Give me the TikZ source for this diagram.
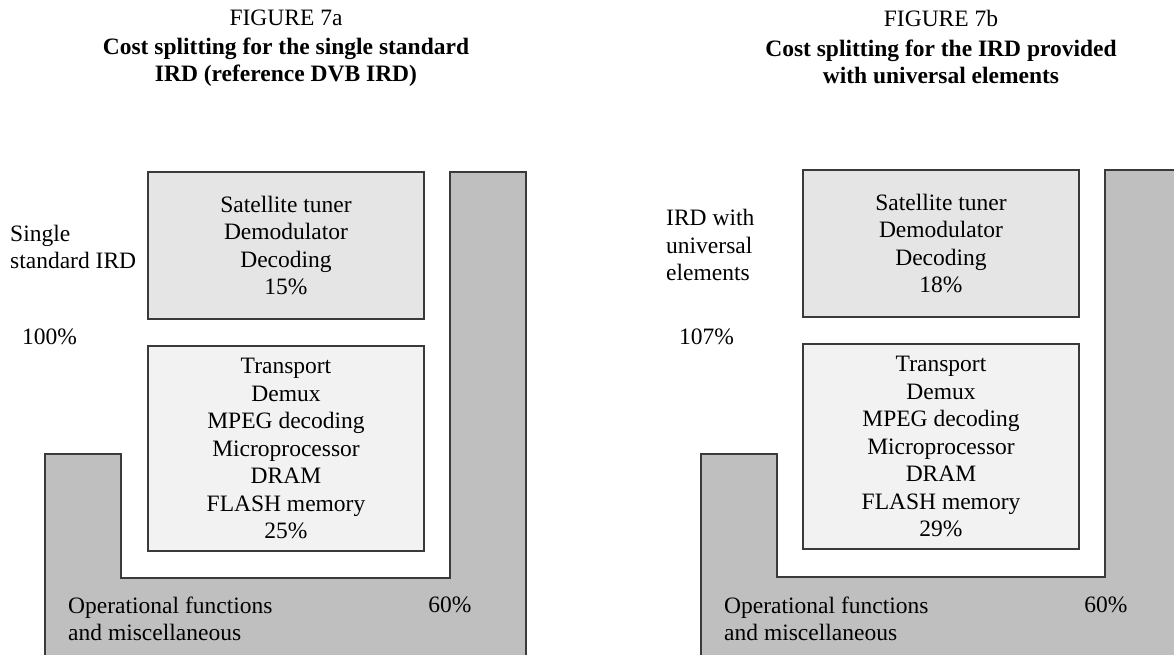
\documentclass[tikz,border=0pt]{standalone}
\usepackage{fontspec}
\setmainfont{Liberation Serif}
\definecolor{ugray}{HTML}{BFBFBF}
\definecolor{tunergray}{HTML}{E5E5E5}
\definecolor{coregray}{HTML}{F2F2F2}
\definecolor{edge}{HTML}{3A3A3A}
\tikzset{
  txt/.style={font=\fontsize{23.5}{27.5}\selectfont, inner sep=0pt, align=center},
  titletxt/.style={txt, font=\fontsize{23.5}{26.5}\selectfont\bfseries},
  upart/.style={fill=ugray, draw=edge, line width=1.2pt},
  tunerbox/.style={txt, draw=edge, fill=tunergray, line width=1.2pt, minimum width=276pt, minimum height=147pt},
  corebox/.style={txt, draw=edge, fill=coregray, line width=1.2pt, minimum width=276pt, minimum height=205pt},
}
\begin{document}
\begin{tikzpicture}[x=1pt, y=-1pt]
  \clip (0,0) rectangle (1174,655);
  % Figure 7a
  \node[txt] (figa) at (286,18) {FIGURE 7a};
  \node[titletxt] (titlea) at (286,62) {Cost splitting for the single standard\\IRD (reference DVB IRD)};
  \draw[upart] (45,660) -- (45,454) -- (121,454) -- (121,578) -- (450,578) -- (450,172) -- (526,172) -- (526,660);
  \node[tunerbox] (tunera) at (286,245.5) {Satellite tuner\\Demodulator\\Decoding\\15\%};
  \node[corebox] (corea) at (286,448.5) {Transport\\Demux\\MPEG decoding\\Microprocessor\\DRAM\\FLASH memory\\25\%};
  \node[txt, align=left, anchor=west] (namea) at (10,247) {Single\\standard IRD};
  \node[txt, anchor=west] (totala) at (22,337) {100\%};
  \node[txt, align=left, anchor=west] (opa) at (68,619) {Operational functions\\and miscellaneous};
  \node[txt] (sharea) at (450,605) {60\%};
  % Figure 7b
  \node[txt] (figb) at (941,18) {FIGURE 7b};
  \node[titletxt] (titleb) at (941,62) {Cost splitting for the IRD provided\\with universal elements};
  \draw[upart] (701,660) -- (701,454) -- (777,454) -- (777,577) -- (1105,577) -- (1105,170) -- (1181,170) -- (1181,660);
  \node[tunerbox] (tunerb) at (941,243.5) {Satellite tuner\\Demodulator\\Decoding\\18\%};
  \node[corebox] (coreb) at (941,446.5) {Transport\\Demux\\MPEG decoding\\Microprocessor\\DRAM\\FLASH memory\\29\%};
  \node[txt, align=left, anchor=west] (nameb) at (666,245) {IRD with\\universal\\elements};
  \node[txt, anchor=west] (totalb) at (679,337) {107\%};
  \node[txt, align=left, anchor=west] (opb) at (724,619) {Operational functions\\and miscellaneous};
  \node[txt] (shareb) at (1106,605) {60\%};
\end{tikzpicture}
\end{document}
